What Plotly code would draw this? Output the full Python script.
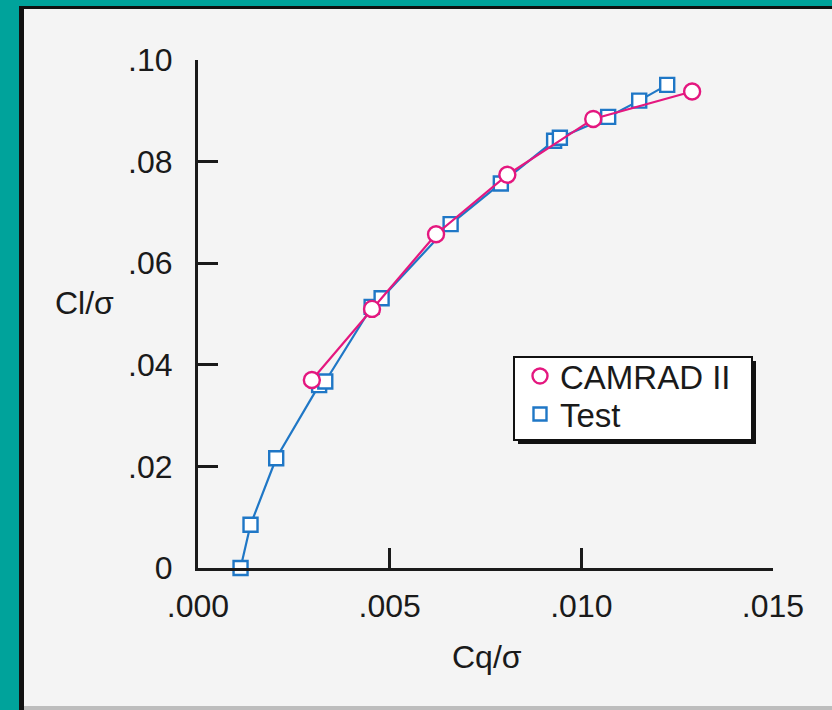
import plotly.graph_objects as go

# ---- data ----
camrad_cq = [0.00297, 0.00454, 0.00621, 0.00807, 0.01031, 0.01289]
camrad_cl = [0.0370, 0.0510, 0.0657, 0.0774, 0.0884, 0.0938]

test_cq = [0.00111, 0.00137, 0.00204, 0.00316, 0.00332, 0.00453, 0.00479,
           0.00659, 0.00790, 0.00929, 0.00944, 0.01070, 0.01151, 0.01224]
test_cl = [0.0000, 0.0085, 0.0216, 0.0360, 0.0367, 0.0514, 0.0531,
           0.0677, 0.0757, 0.0841, 0.0847, 0.0888, 0.0920, 0.0951]

x_tickvals = [0.0, 0.005, 0.010, 0.015]
x_ticktext = [".000", ".005", ".010", ".015"]
y_tickvals = [0.0, 0.02, 0.04, 0.06, 0.08, 0.10]
y_ticktext = ["0", ".02", ".04", ".06", ".08", ".10"]

W, H = 832, 710
L, R, T, B = 198, 59, 60, 142
PW, PH = W - L - R, H - T - B

MAG = "#e4177f"
BLU = "#1f77c6"
BG = "#f4f4f4"
TEAL = "#00a39b"
FONT = "Liberation Sans, Arial, sans-serif"
FS = 32
LFS = 33


def px_x(p):
    return (p - L) / PW


def px_y(p):
    return (H - B - p) / PH


fig = go.Figure()

fig.add_trace(go.Scatter(
    x=test_cq, y=test_cl, mode="lines+markers", name="Test",
    line=dict(color=BLU, width=2.2),
    marker=dict(symbol="square", size=14, color="white",
                line=dict(color=BLU, width=2.4)),
    cliponaxis=False, showlegend=False))

fig.add_trace(go.Scatter(
    x=camrad_cq, y=camrad_cl, mode="lines+markers", name="CAMRAD II",
    line=dict(color=MAG, width=2.2),
    marker=dict(symbol="circle", size=16, color="white",
                line=dict(color=MAG, width=2.4)),
    cliponaxis=False, showlegend=False))

# legend-only entries (markers only, as in the reference)
fig.add_trace(go.Scatter(
    x=[None], y=[None], mode="markers", name="CAMRAD II", legend="legend",
    marker=dict(symbol="circle", size=15, color="white",
                line=dict(color=MAG, width=2.4))))
fig.add_trace(go.Scatter(
    x=[None], y=[None], mode="markers", name="Test", legend="legend2",
    marker=dict(symbol="square", size=13, color="white",
                line=dict(color=BLU, width=2.4))))

shapes = []
# teal frame left & top
shapes.append(dict(type="rect", xref="paper", yref="paper",
                   x0=px_x(0), x1=px_x(19), y0=px_y(H), y1=px_y(0),
                   fillcolor=TEAL, line=dict(width=0), layer="below"))
shapes.append(dict(type="rect", xref="paper", yref="paper",
                   x0=px_x(0), x1=px_x(W), y0=px_y(6), y1=px_y(0),
                   fillcolor=TEAL, line=dict(width=0), layer="below"))
# dark inner edges
shapes.append(dict(type="rect", xref="paper", yref="paper",
                   x0=px_x(19), x1=px_x(24), y0=px_y(H), y1=px_y(6),
                   fillcolor="#111111", line=dict(width=0), layer="below"))
shapes.append(dict(type="rect", xref="paper", yref="paper",
                   x0=px_x(19), x1=px_x(W), y0=px_y(9), y1=px_y(6),
                   fillcolor="#111111", line=dict(width=0), layer="below"))
# bottom gray line
shapes.append(dict(type="rect", xref="paper", yref="paper",
                   x0=px_x(24), x1=px_x(W), y0=px_y(710), y1=px_y(706),
                   fillcolor="#bdbdbd", line=dict(width=0), layer="below"))
# legend shadow + box
shapes.append(dict(type="rect", xref="paper", yref="paper",
                   x0=px_x(518), x1=px_x(756), y0=px_y(444), y1=px_y(361),
                   fillcolor="#111111", line=dict(width=0), layer="below"))
shapes.append(dict(type="rect", xref="paper", yref="paper",
                   x0=px_x(514), x1=px_x(752), y0=px_y(440), y1=px_y(357),
                   fillcolor="white", line=dict(width=2, color="#111111"),
                   layer="below"))

leg_common = dict(xanchor="left", yanchor="top",
                  bgcolor="rgba(0,0,0,0)", borderwidth=0,
                  font=dict(family=FONT, size=LFS, color="#1a1a1a"),
                  itemwidth=30, indentation=6)

fig.update_layout(
    width=W, height=H,
    margin=dict(l=L, r=R, t=T, b=B, pad=0),
    paper_bgcolor=BG, plot_bgcolor=BG,
    font=dict(family=FONT, size=FS, color="#1a1a1a"),
    showlegend=True,
    legend=dict(x=px_x(514), y=px_y(348), **leg_common),
    legend2=dict(x=px_x(514), y=px_y(386), **leg_common),
    shapes=shapes,
    xaxis=dict(range=[0, 0.015], tickvals=x_tickvals, ticktext=x_ticktext,
               showgrid=False, zeroline=False, showline=True,
               linecolor="#1a1a1a", linewidth=3,
               ticks="inside", ticklen=20, tickwidth=3, tickcolor="#1a1a1a",
               ticklabelstandoff=8, fixedrange=True),
    yaxis=dict(range=[0, 0.10], tickvals=y_tickvals, ticktext=y_ticktext,
               showgrid=False, zeroline=False, showline=True,
               linecolor="#1a1a1a", linewidth=3,
               ticks="inside", ticklen=20, tickwidth=3, tickcolor="#1a1a1a",
               ticklabelstandoff=16, fixedrange=True),
    annotations=[
        dict(text="Cl/σ", xref="paper", yref="paper",
             x=px_x(84), y=px_y(303), xanchor="center", yanchor="middle",
             showarrow=False, font=dict(family=FONT, size=FS, color="#1a1a1a")),
        dict(text="Cq/σ", xref="paper", yref="paper",
             x=px_x(487), y=px_y(657), xanchor="center", yanchor="middle",
             showarrow=False, font=dict(family=FONT, size=FS, color="#1a1a1a")),
    ],
)

fig.write_html("out.html")
